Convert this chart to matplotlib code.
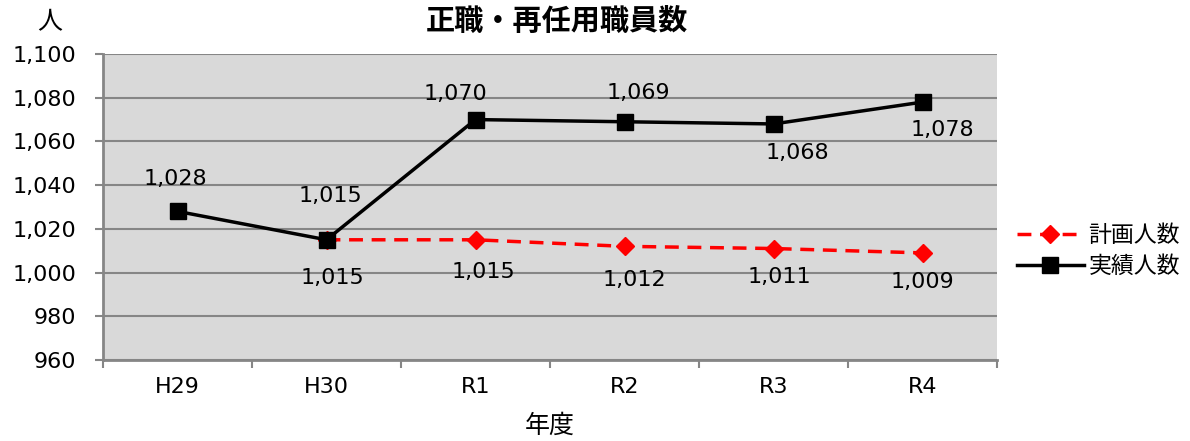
import matplotlib
matplotlib.use("Agg")
import matplotlib.pyplot as plt
from matplotlib.ticker import FuncFormatter, FixedLocator

plt.rcParams['font.family'] = ['DejaVu Sans', 'Noto Sans CJK JP']

categories = ["H29", "H30", "R1", "R2", "R3", "R4"]
actual = [1028, 1015, 1070, 1069, 1068, 1078]
plan = [None, 1015, 1015, 1012, 1011, 1009]

# label offsets in pixels (dx, dy) relative to each marker
actual_offsets = [(-2, 32), (4, 44), (-20, 26), (14, 29), (24, -29), (20, -28)]
plan_offsets = [None, (6, -38), (8, -32), (10, -34), (6, -28), (0, -29)]

PX = 72 / 100  # points per pixel at 100 dpi

fig = plt.figure(figsize=(11.9, 4.41), dpi=100)
ax = fig.add_axes([103 / 1190, 81 / 441, 894 / 1190, 306 / 441])
ax.set_facecolor("#d9d9d9")

x = list(range(len(categories)))
px = [i for i, v in zip(x, plan) if v is not None]
pv = [v for v in plan if v is not None]
po = [o for o in plan_offsets if o is not None]

ax.plot(px, pv, color="#ff0000", lw=2.5, ls=(0, (4, 2.5)), marker="D",
        ms=9, mfc="#ff0000", mec="#ff0000", label="計画人数", zorder=3)
ax.plot(x, actual, color="black", lw=2.5, marker="s", ms=12,
        mfc="black", mec="black", label="実績人数", zorder=4)

fs = 16
for xi, v, (dx, dy) in zip(px, pv, po):
    ax.annotate(f"{v:,}", (xi, v), xytext=(dx * PX, dy * PX), textcoords="offset points",
                ha="center", va="center", fontsize=fs)
for xi, v, (dx, dy) in zip(x, actual, actual_offsets):
    ax.annotate(f"{v:,}", (xi, v), xytext=(dx * PX, dy * PX),
                textcoords="offset points", ha="center", va="center", fontsize=fs)

ax.set_xlim(-0.5, len(categories) - 0.5)
ax.set_ylim(960, 1100)
ax.set_yticks(range(960, 1101, 20))
ax.yaxis.set_major_formatter(FuncFormatter(lambda v, p: f"{int(v):,}"))
ax.grid(axis="y", color="#868686", lw=1.5)
ax.set_axisbelow(True)

ax.set_xticks(x)
ax.set_xticklabels(categories)
ax.xaxis.set_minor_locator(FixedLocator([i - 0.5 for i in range(len(categories) + 1)]))
ax.tick_params(axis="x", which="major", length=0, pad=12, labelsize=fs)
ax.tick_params(axis="x", which="minor", length=6, width=1.5, color="#868686", direction="out")
ax.tick_params(axis="y", length=6, width=1.5, color="#868686", labelsize=fs, pad=13)

for s in ["top", "right"]:
    ax.spines[s].set_visible(False)
for s in ["left", "bottom"]:
    ax.spines[s].set_color("#868686")
    ax.spines[s].set_linewidth(2)

ax.set_xlabel("年度", fontsize=18, labelpad=12)
fig.text(50 / 1190, 1 - 22 / 441, "人", fontsize=18, ha="center", va="center")
fig.text(557 / 1190, 1 - 22 / 441, "正職・再任用職員数", fontsize=21,
         fontweight="bold", ha="center", va="center")

ax.legend(loc="center left", bbox_to_anchor=(1.0045, 0.355), frameon=False,
          fontsize=16.5, handlelength=2.9, handletextpad=0.22, labelspacing=0.35,
          borderaxespad=0.3)

fig.savefig("out.png", dpi=100)
